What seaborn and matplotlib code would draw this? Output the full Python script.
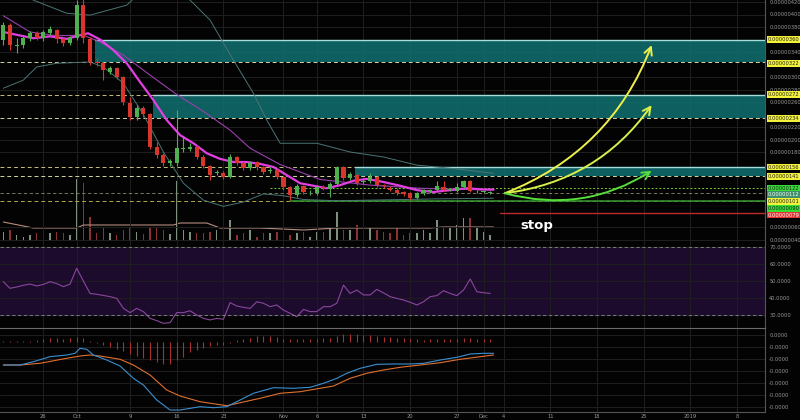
import numpy as np
import pandas as pd
import seaborn as sns
import matplotlib
matplotlib.use("Agg")
import matplotlib.pyplot as plt
from matplotlib.ticker import FuncFormatter, FixedLocator

# ---- candles (price in satoshi units, 1e-8) ----
opens = [359, 383, 350, 351, 362, 370, 362, 370, 375, 361, 354, 362, 415, 361, 324, 322, 308, 314, 300, 258,
         236, 250, 241, 188, 175, 163, 162, 185, 185, 188, 172, 158, 146, 147, 140, 172, 162, 154, 164, 156,
         149, 152, 140, 124, 111, 126, 114, 114, 124, 121, 129, 156, 138, 144, 132, 134, 140, 127, 123, 120,
         116, 114, 107, 114, 118, 119, 124, 119, 118, 124, 134, 117, 116, 115]
closes = [383, 351, 352, 362, 370, 362, 372, 377, 361, 354, 362, 415, 362, 324, 323, 311, 314, 300, 260, 236,
          250, 241, 188, 175, 162, 166, 186, 185, 188, 172, 158, 143, 148, 140, 172, 162, 154, 162, 156, 148,
          152, 140, 124, 111, 126, 116, 115, 124, 122, 129, 156, 138, 145, 130, 133, 140, 127, 125, 120, 115,
          113, 107, 114, 119, 118, 125, 119, 119, 124, 134, 118, 117, 116, 115]
highs = [388, 386, 362, 368, 374, 373, 376, 381, 377, 364, 366, 423, 425, 364, 330, 324, 318, 316, 302, 268,
         256, 253, 243, 196, 178, 169, 247, 205, 195, 191, 175, 160, 152, 150, 177, 174, 165, 166, 166, 158,
         156, 154, 142, 126, 129, 128, 119, 127, 127, 132, 158, 158, 148, 146, 137, 146, 142, 129, 125, 122,
         118, 116, 116, 121, 121, 133, 133, 122, 131, 136, 136, 119, 118, 117]
lows = [352, 343, 338, 347, 358, 359, 358, 367, 355, 349, 351, 360, 355, 320, 318, 295, 305, 297, 256, 232,
        232, 236, 185, 171, 158, 158, 158, 180, 182, 169, 155, 136, 143, 137, 138, 159, 151, 151, 152, 145,
        146, 137, 120, 103, 108, 113, 111, 111, 119, 108, 127, 135, 136, 127, 129, 131, 124, 122, 118, 112,
        110, 104, 105, 112, 115, 117, 117, 117, 116, 122, 116, 115, 114, 113]
volumes = [9, 11, 6, 4, 6, 8, 8, 8, 9, 8, 6, 62, 58, 24, 8, 13, 8, 6, 11, 14,
           9, 7, 13, 14, 11, 7, 60, 11, 9, 8, 8, 9, 11, 7, 21, 6, 8, 11, 4, 8,
           8, 9, 11, 6, 8, 9, 4, 9, 9, 14, 29, 11, 11, 16, 8, 13, 11, 9, 8, 13,
           6, 8, 8, 11, 8, 21, 14, 13, 16, 23, 23, 14, 9, 6]

# ---- indicator lines (candle index, value) ----
ma_fast_i = [0, 4.5, 7, 9.5, 11.5, 12.7, 14.5, 16.5, 18.5, 20.5, 22.5, 24.5, 26.5, 28.5, 30.5, 32.5, 34.5,
             36.5, 38.5, 40.5, 42.5, 44.5, 46.5, 48.5, 50.5, 52.5, 54.5, 57, 59.5, 62, 64.5, 67, 69.5, 72, 73.5]
ma_fast_v = [372, 362, 365, 361, 367, 370, 360, 343, 322, 292, 263, 231, 207, 194, 178, 169, 164,
             164, 161, 156, 143, 130, 126, 122, 127, 134, 137, 132, 126, 119, 116, 119, 122, 120, 120]
ma_slow_i = [0, 4, 8, 12, 14.5, 18, 22, 26, 30, 34, 37, 41.5, 47.5, 55, 62.5, 73.5]
ma_slow_v = [398, 372, 366, 367, 356, 335, 303, 272, 245, 215, 186, 160, 136, 127, 122, 119]
bb_up_i = [0, 4.5, 9.5, 13, 18.5, 19.5, 24, 28, 31, 34.5, 37.5, 39.5, 41.5, 47, 52, 57, 62, 67, 73.5]
bb_up_v = [450, 423, 402, 399, 415, 425, 450, 423, 391, 327, 274, 231, 194, 194, 180, 172, 159, 154, 146]
bb_lo_i = [0, 3, 5, 8, 13, 15, 18, 21, 24, 27, 30, 33, 36, 39, 42, 45, 50, 55, 60, 65, 73.5]
bb_lo_v = [282, 295, 316, 322, 324, 316, 290, 240, 180, 130, 103, 93, 100, 113, 110, 104, 102, 103, 104, 105, 106]
vol_ma_i = [0, 4.5, 11, 12, 25.5, 26.5, 30.5, 32.5, 38.5, 45, 50, 64, 66, 73.5]
vol_ma_v = [19, 13, 13, 16, 16, 18, 18, 13, 13, 11, 13, 13, 14, 14]

rsi = [49.6, 45.7, 46.5, 47.5, 48.2, 47.1, 48.0, 49.6, 48.5, 46.7, 48.2, 57.5, 50.0, 42.7, 42.2, 41.5, 40.8,
       39.8, 33.9, 31.4, 33.9, 32.0, 28.0, 26.7, 25.1, 25.5, 31.4, 31.4, 32.5, 30.0, 28.0, 27.1, 28.0, 27.5,
       37.3, 35.3, 34.5, 33.9, 37.8, 36.9, 34.9, 35.9, 32.9, 31.0, 29.0, 33.3, 32.0, 32.0, 34.9, 34.9, 36.9,
       47.6, 42.7, 44.7, 41.8, 41.8, 45.1, 43.0, 40.8, 39.8, 38.8, 37.5, 35.9, 37.8, 40.8, 41.4, 44.3, 42.7,
       41.4, 44.7, 51.2, 43.7, 43.1, 42.7]

macd_i = [0, 2.5, 4.5, 7, 9.5, 10.75, 11.5, 12.5, 13.5, 15.5, 17.5, 19.5, 21, 23, 25, 26.5, 29.5, 31.5, 33.5,
          35.5, 37.5, 40.5, 43.5, 46, 48, 50, 51.5, 53.5, 56, 58.5, 61, 63, 65.5, 68, 70, 72, 73.5]
macd_v = [-23.3, -23.3, -20, -15, -13.3, -11.6, -6.6, -7.6, -13.3, -18.3, -24.3, -36.6, -43.3, -58.3, -68.3,
          -68.3, -65, -66, -65, -58.3, -51.6, -46, -46.6, -45.6, -41.6, -36.6, -31.6, -26.6, -22.6, -22.3,
          -22.3, -21.6, -18.3, -15.6, -12.3, -11.6, -11.6]
signal_i = [0, 2.5, 5.5, 9.5, 11.5, 13, 14.5, 17.5, 19.5, 22, 24.5, 26.5, 29.5, 33.5, 35.5, 38.5, 41.5, 44.5,
            47.5, 49.5, 52, 54.5, 57, 59.5, 62.5, 65.5, 68.5, 71.5, 73.5]
signal_v = [-23.3, -23.3, -21.6, -16.6, -14.3, -13.3, -14.3, -17.6, -23.3, -33.3, -48.3, -54.3, -60, -64, -61,
            -56.6, -51.6, -50, -46.6, -44.3, -36.6, -31.6, -28.3, -25.6, -23.3, -21, -17.6, -15, -13.3]
hist = [0.3, 0.3, 0.3, 0.5, 1, 1.5, 3, 3.5, 3.5, 3, 3.5, 5, 4, 1, -1.5, -3, -5, -7, -9, -12, -14, -16, -18,
        -20, -22, -22, -18, -15, -10, -8, -6, -4.5, -3.5, -3, -1.5, 1.5, 2.5, 4, 5.5, 5.7, 6, 5, 3, 2.7, 2.5,
        2.3, 2.5, 3, 3.3, 4, 6, 7.5, 7.5, 7.5, 7, 6.5, 6, 5, 4.5, 3.5, 3.3, 2.7, 2.3, 1.7, 2.3, 2.3, 2.3, 2.7,
        3, 3.3, 3.3, 3, 3, 2.7]

# ---- levels ----
zone_top = [360, 272, 156]
zone_bottom = [324, 234, 141]
zone_start = [13.7, 22.5, 52.7]
support_lines = [122, 115, 102]
stop_level = 82
label_levels = [360, 322, 272, 234, 156, 141, 122, 112, 101, 90, 79]
label_colors = ["#f2f23a", "#f2f23a", "#f2f23a", "#f2f23a", "#f2f23a", "#f2f23a",
                "#33dd33", "#3f8f6a", "#f2f23a", "#33dd33", "#e03535"]
arrow_start = (75.2, 114)
arrow_ends = [(97.2, 351), (97.2, 255), (97.2, 150)]
arrow_colors = ["#eef04a", "#d8f04a", "#55dd3a"]

start_date = pd.Timestamp("2018-09-20")
tick_dates = ["2018-09-26", "2018-10-01", "2018-10-09", "2018-10-16", "2018-10-23", "2018-11-01",
              "2018-11-06", "2018-11-13", "2018-11-20", "2018-11-27", "2018-12-01", "2018-12-04",
              "2018-12-11", "2018-12-18", "2018-12-25", "2019-01-01", "2019-01-08"]
tick_labels = ["26", "Oct", "9", "16", "23", "Nov", "6", "13", "20", "27", "Dec", "4", "11", "18", "25",
               "2019", "8"]

sns.set_style("dark", {"axes.facecolor": "#030303", "figure.facecolor": "#030303",
                       "grid.color": "#1f1f1f", "axes.edgecolor": "#555555"})

fig = plt.figure(figsize=(8, 4.2), dpi=100)
W = 765 / 800
ax = fig.add_axes([0, 1 - 245 / 420, W, 245 / 420])
ax_rsi = fig.add_axes([0, 1 - 328 / 420, W, 83 / 420], sharex=ax)
ax_macd = fig.add_axes([0, 1 - 412 / 420, W, 84 / 420], sharex=ax)
ax_vol = ax.twinx()
FS = 3.7

df = pd.DataFrame({"open": opens, "close": closes, "high": highs, "low": lows, "vol": volumes})
df["i"] = np.arange(len(df))
up = df["close"] >= df["open"]
green, red = "#4fb04f", "#d8352c"
cols = np.where(up, green, red)

# volume first (behind)
vcols = np.where(up, "#7d8f7d", "#8c3232")
ax_vol.bar(df["i"], df["vol"], width=0.22, color=vcols, edgecolor=vcols, linewidth=0, zorder=1)
sns.lineplot(x=vol_ma_i, y=vol_ma_v, ax=ax_vol, color="#b88c80", linewidth=0.8)
ax_vol.set_ylim(-4, 241)
ax_vol.set_yticks([])
ax_vol.grid(False)
for s in ax_vol.spines.values():
    s.set_visible(False)

# zones
xmin, xmax = -0.5, 114.2
for t, b, s in zip(zone_top, zone_bottom, zone_start):
    ax.fill_between([s, xmax], b, t, color="#107070", alpha=0.85, zorder=1, linewidth=0)
    ax.plot([s, xmax], [t, t], color="#a6dcdc", lw=1.0, zorder=2)
    ax.plot([xmin, xmax], [b, b], color="#d6d6a0", lw=0.7, ls=(0, (4, 3)), zorder=2)
    if s > 20:
        ax.plot([xmin, s], [t, t], color="#c8c07a", lw=0.7, ls=(0, (4, 3)), zorder=2)

ax.plot([40, xmax], [support_lines[0]] * 2, color="#7acc3a", lw=0.7, ls=(0, (2, 2)), zorder=2)
ax.plot([xmin, xmax], [support_lines[1]] * 2, color="#8a8a6a", lw=0.6, ls=(0, (4, 3)), zorder=2)
ax.plot([xmin, xmax], [support_lines[2]] * 2, color="#b8a848", lw=0.7, ls=(0, (4, 3)), zorder=2)
ax.plot([43, xmax], [support_lines[2]] * 2, color="#2f8f2f", lw=1.2, zorder=2)
ax.plot([74.5, xmax], [stop_level] * 2, color="#c02a2a", lw=1.0, zorder=2)

# bands and moving averages
sns.lineplot(x=bb_up_i, y=bb_up_v, ax=ax, color="#4b7474", linewidth=0.7)
sns.lineplot(x=bb_lo_i, y=bb_lo_v, ax=ax, color="#4b7474", linewidth=0.7)
sns.lineplot(x=ma_slow_i, y=ma_slow_v, ax=ax, color="#9a3fae", linewidth=0.8)
sns.lineplot(x=ma_fast_i, y=ma_fast_v, ax=ax, color="#e23fe2", linewidth=1.6)

# candles
ax.vlines(df["i"], df["low"], df["high"], color=cols, linewidth=0.8, zorder=4)
body = np.maximum((df["close"] - df["open"]).abs(), 1.2)
ax.bar(df["i"], body, bottom=np.minimum(df["open"], df["close"]), width=0.62, color=cols,
       edgecolor=cols, linewidth=0, zorder=5)

# arrows
for (ex, ey), c in zip(arrow_ends, arrow_colors):
    ax.annotate("", xy=(ex, ey), xytext=arrow_start,
                arrowprops=dict(arrowstyle="->,head_length=0.55,head_width=0.28", color=c, lw=1.4,
                                connectionstyle="arc3,rad=0.22", shrinkA=0, shrinkB=0), zorder=6)
ax.text(80, 63, "stop", color="white", fontsize=9.5, fontweight="bold", ha="center", va="center")

ax.set_xlim(xmin, xmax)
ax.set_ylim(31.2, 423.2)
ax.yaxis.tick_right()
price_ticks = [v for v in range(40, 421, 20) if min(abs(v - l) for l in label_levels) > 6]
ax.set_yticks(price_ticks)
ax.yaxis.set_major_formatter(FuncFormatter(lambda v, p: f"{v / 1e8:.8f}"))
ax.tick_params(axis="y", labelsize=FS, colors="#9a9a9a", length=0, pad=3)
ax.tick_params(axis="x", labelbottom=False, length=0)
for lv, c in zip(label_levels, label_colors):
    ax.annotate(f"{lv / 1e8:.8f}", xy=(1.003, lv), xycoords=("axes fraction", "data"), fontsize=FS,
                color="white" if c in ("#e03535", "#3f8f6a") else "#202020", va="center", ha="left",
                annotation_clip=False,
                bbox=dict(boxstyle="square,pad=0.15", fc=c, ec="none"))

# RSI
ax_rsi.axhspan(30, 70, color="#1c0b2c", zorder=0)
sns.lineplot(x=np.arange(len(rsi)), y=rsi, ax=ax_rsi, color="#8a469e", linewidth=0.8)
for lv in (30, 70):
    ax_rsi.axhline(lv, color="#8a8a8a", lw=0.6, ls=(0, (4, 3)))
ax_rsi.set_ylim(22.35, 71.2)
ax_rsi.yaxis.tick_right()
ax_rsi.set_yticks([30, 40, 50, 60, 70])
ax_rsi.yaxis.set_major_formatter(FuncFormatter(lambda v, p: f"{v:.4f}"))
ax_rsi.tick_params(axis="y", labelsize=FS, colors="#9a9a9a", length=0, pad=3)
ax_rsi.tick_params(axis="x", labelbottom=False, length=0)

# MACD
ax_macd.vlines(np.arange(len(hist)), 0, hist, color="#a83030", linewidth=0.8)
sns.lineplot(x=signal_i, y=signal_v, ax=ax_macd, color="#e0702e", linewidth=0.8)
sns.lineplot(x=macd_i, y=macd_v, ax=ax_macd, color="#3b8fd0", linewidth=0.8)
ax_macd.set_ylim(-70.3, 13.7)
ax_macd.yaxis.tick_right()
ax_macd.set_yticks([6.7, -5.3, -17.3, -29.3, -41.3, -53.3, -65.3])
ax_macd.yaxis.set_major_formatter(FuncFormatter(lambda v, p: f"{v * 1e-8:.4f}"))
ax_macd.tick_params(axis="y", labelsize=FS, colors="#9a9a9a", length=0, pad=3)
tick_pos = [(pd.Timestamp(d) - start_date).days for d in tick_dates]
ax_macd.xaxis.set_major_locator(FixedLocator(tick_pos))
ax_macd.set_xticklabels(tick_labels)
ax_macd.tick_params(axis="x", labelsize=FS, colors="#9a9a9a", length=0, pad=1.5)

for a in (ax, ax_rsi, ax_macd):
    a.grid(True, color="#1f1f1f", linewidth=0.7)
    a.set_xlabel("")
    a.set_ylabel("")
    for side in ("left", "top", "bottom"):
        a.spines[side].set_visible(False)
    a.spines["right"].set_color("#555555")
    a.spines["right"].set_linewidth(0.8)
ax_macd.spines["top"].set_visible(True)
ax_macd.spines["top"].set_color("#6a6a6a")
ax_macd.spines["bottom"].set_visible(True)
ax_macd.spines["bottom"].set_color("#555555")
ax.set_zorder(ax_vol.get_zorder() + 1)
ax.patch.set_visible(False)

fig.savefig("out.png", dpi=100, facecolor=fig.get_facecolor())
